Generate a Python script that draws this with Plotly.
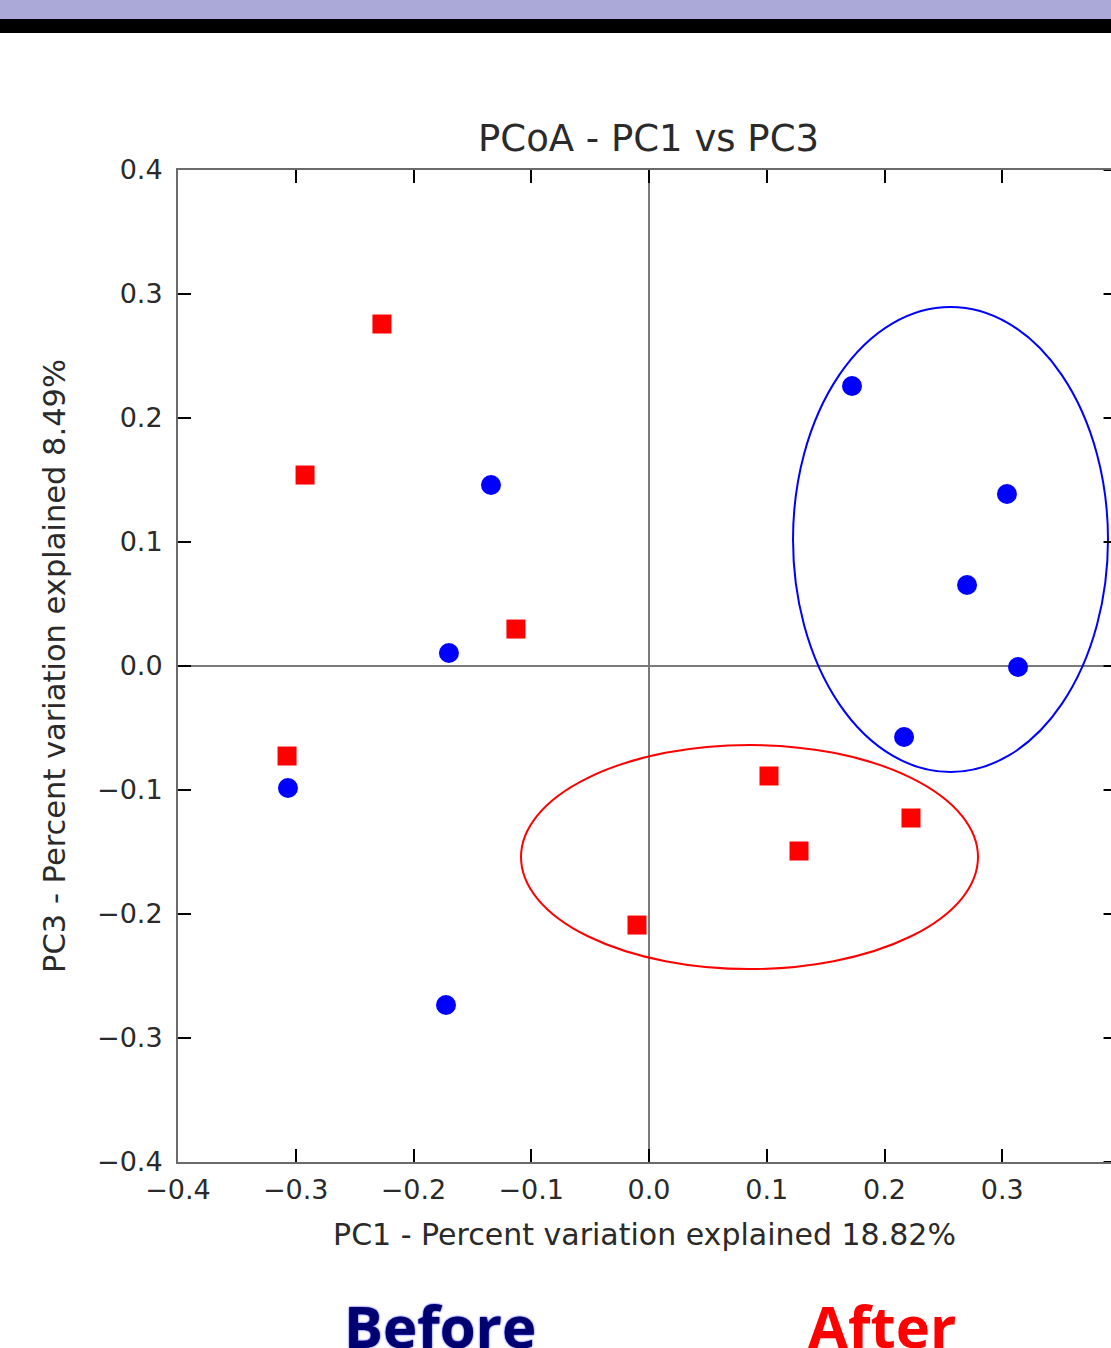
import plotly.graph_objects as go

# ---- data ----
after_pc1 = [-0.2268, -0.2921, -0.1130, -0.3074, 0.1019, 0.2225, 0.1274, -0.0102]
after_pc3 = [0.2758, 0.1540, 0.0298, -0.0726, -0.0887, -0.1226, -0.1492, -0.2089]
before_pc1 = [0.1724, -0.1342, 0.3040, 0.2701, -0.1699, 0.3134, 0.2166, -0.3066, -0.1724]
before_pc3 = [0.2258, 0.1460, 0.1387, 0.0653, 0.0105, -0.0008, -0.0573, -0.0984, -0.2734]
tick_vals = [-0.4, -0.3, -0.2, -0.1, 0.0, 0.1, 0.2, 0.3, 0.4]
tick_text = ["\u22120.4", "\u22120.3", "\u22120.2", "\u22120.1", "0.0", "0.1", "0.2", "0.3", "0.4"]
# group ellipses (data coords: x0, x1, y0, y1)
before_ellipse = [0.1223, 0.3898, -0.0855, 0.2895]
after_ellipse = [-0.1087, 0.2794, -0.2444, -0.0637]

W, H = 1111, 1348
L, T, B = 178, 170, 186
PH = H - T - B
X_MIN = -0.4
X_MAX = X_MIN + (W - L) / 1177.5  # right edge of plot is cut off in original

font_main = "DejaVu Sans"
txt_col = "#2a2a2a"

fig = go.Figure()
fig.add_trace(go.Scatter(x=before_pc1, y=before_pc3, mode="markers",
                         marker=dict(symbol="circle", size=20, color="#0000FF", line=dict(width=0)),
                         showlegend=False))
fig.add_trace(go.Scatter(x=after_pc1, y=after_pc3, mode="markers",
                         marker=dict(symbol="square", size=19, color="#FF0000", line=dict(width=0)),
                         showlegend=False))

shapes = []
# zero lines
shapes.append(dict(type="line", xref="x", yref="y", x0=0, x1=0, y0=-0.4, y1=0.4,
                   line=dict(color="#7a7a7a", width=2), layer="below"))
shapes.append(dict(type="line", xref="x", yref="y", x0=X_MIN, x1=X_MAX, y0=0, y1=0,
                   line=dict(color="#7a7a7a", width=2), layer="below"))
# ellipses
for e, c in [(before_ellipse, "#0000FF"), (after_ellipse, "#FF0000")]:
    shapes.append(dict(type="circle", xref="x", yref="y", x0=e[0], x1=e[1], y0=e[2], y1=e[3],
                       line=dict(color=c, width=2)))
# right-side ticks (spine itself is off-image)
for v in tick_vals:
    shapes.append(dict(type="line", xref="paper", yref="y", x0=0.992, x1=1.0, y0=v, y1=v,
                       line=dict(color="black", width=2)))
# top bands
shapes.append(dict(type="rect", xref="paper", yref="paper", x0=-1, x1=2,
                   y0=1 + (T - 19) / PH, y1=1 + T / PH,
                   fillcolor="#ABA9D8", line=dict(width=0)))
shapes.append(dict(type="rect", xref="paper", yref="paper", x0=-1, x1=2,
                   y0=1 + (T - 33) / PH, y1=1 + (T - 19) / PH,
                   fillcolor="#000000", line=dict(width=0)))

axis_common = dict(
    tickmode="array", tickvals=tick_vals, ticktext=tick_text,
    ticks="inside", ticklen=13, tickwidth=2, tickcolor="black",
    showline=True, linecolor="#6a6a6a", linewidth=2,
    showgrid=False, zeroline=False,
    tickfont=dict(family=font_main, size=27, color=txt_col),
)

fig.update_layout(
    width=W, height=H,
    margin=dict(l=L, r=0, t=T, b=B, autoexpand=False),
    paper_bgcolor="white", plot_bgcolor="white",
    shapes=shapes,
    xaxis=dict(range=[X_MIN, X_MAX], mirror="ticks", ticklabelstandoff=3, **axis_common,
               title=dict(text="PC1 - Percent variation explained 18.82%",
                          font=dict(family=font_main, size=30, color=txt_col), standoff=20)),
    yaxis=dict(range=[-0.4, 0.4], ticklabelstandoff=8, **axis_common,
               title=dict(text="PC3 - Percent variation explained 8.49%",
                          font=dict(family=font_main, size=30.5, color=txt_col), standoff=22)),
    annotations=[
        dict(text="PCoA - PC1 vs PC3", xref="paper", yref="paper",
             x=(648 - L) / (W - L), y=1, yshift=8, xanchor="center", yanchor="bottom",
             showarrow=False, font=dict(family=font_main, size=37, color=txt_col)),
        dict(text="<b>Before</b>", xref="paper", yref="paper",
             x=(440 - L) / (W - L), y=-(1284 - 1162) / PH, yanchor="top",
             xanchor="center", showarrow=False,
             font=dict(family="Open Sans", size=58, color="#000070",
                       shadow="0px 0px 2px #0000FF")),
        dict(text="<b>After</b>", xref="paper", yref="paper",
             x=(882 - L) / (W - L), y=-(1284 - 1162) / PH, yanchor="top",
             xanchor="center", showarrow=False,
             font=dict(family="Open Sans", size=58, color="#FF0000")),
    ],
)

fig.write_html("out.html")
